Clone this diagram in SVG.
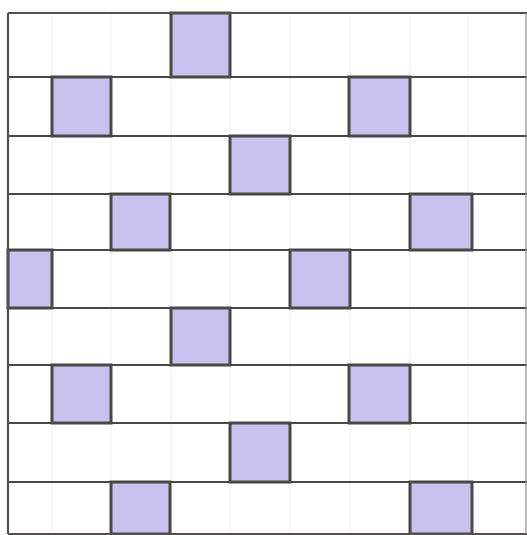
<svg xmlns="http://www.w3.org/2000/svg" width="527" height="535" viewBox="0 0 527 535">
  <style>
    .faint { stroke: #efefef; stroke-width: 1; fill: none; }
    .row { stroke: #4a4747; stroke-width: 2.2; fill: none; }
    .sq { fill: #c7c3ee; stroke: #4a4747; stroke-width: 3; }
    .frame { fill: none; stroke: #555050; stroke-width: 2.2; }
    .rframe { fill: none; stroke: #8a8585; stroke-width: 1.2; }
  </style>
  <rect x="0" y="0" width="527" height="535" fill="#ffffff"/>
  <g id="faint-grid">
    <line class="faint" x1="52" y1="13" x2="52" y2="534"/>
    <line class="faint" x1="111" y1="13" x2="111" y2="534"/>
    <line class="faint" x1="171" y1="13" x2="171" y2="534"/>
    <line class="faint" x1="230" y1="13" x2="230" y2="534"/>
    <line class="faint" x1="290" y1="13" x2="290" y2="534"/>
    <line class="faint" x1="350" y1="13" x2="350" y2="534"/>
    <line class="faint" x1="410" y1="13" x2="410" y2="534"/>
    <line class="faint" x1="468" y1="13" x2="468" y2="534"/>
  </g>
  <g id="row-lines">
    <line class="row" x1="8" y1="77" x2="527" y2="77"/>
    <line class="row" x1="8" y1="136" x2="527" y2="136"/>
    <line class="row" x1="8" y1="194" x2="527" y2="194"/>
    <line class="row" x1="8" y1="250" x2="527" y2="250"/>
    <line class="row" x1="8" y1="308" x2="527" y2="308"/>
    <line class="row" x1="8" y1="365" x2="527" y2="365"/>
    <line class="row" x1="8" y1="423" x2="527" y2="423"/>
    <line class="row" x1="8" y1="482" x2="527" y2="482"/>
  </g>
  <g id="squares">
    <rect class="sq" x="171" y="13" width="59" height="64"/>
    <rect class="sq" x="52" y="77" width="59" height="59"/>
    <rect class="sq" x="349" y="77" width="61" height="59"/>
    <rect class="sq" x="230" y="136" width="60" height="58"/>
    <rect class="sq" x="111" y="194" width="59" height="56"/>
    <rect class="sq" x="410" y="194" width="62" height="56"/>
    <rect class="sq" x="8" y="250" width="44" height="58"/>
    <rect class="sq" x="290" y="250" width="60" height="58"/>
    <rect class="sq" x="171" y="308" width="59" height="57"/>
    <rect class="sq" x="52" y="365" width="59" height="58"/>
    <rect class="sq" x="349" y="365" width="61" height="58"/>
    <rect class="sq" x="230" y="423" width="60" height="59"/>
    <rect class="sq" x="111" y="482" width="59" height="52"/>
    <rect class="sq" x="410" y="482" width="62" height="52"/>
  </g>
  <g id="frame">
    <line class="frame" x1="8" y1="13" x2="527" y2="13"/>
    <line class="frame" x1="8" y1="13" x2="8" y2="534"/>
    <line class="frame" x1="8" y1="534" x2="527" y2="534"/>
    <line class="rframe" x1="526" y1="13" x2="526" y2="534"/>
  </g>
</svg>
